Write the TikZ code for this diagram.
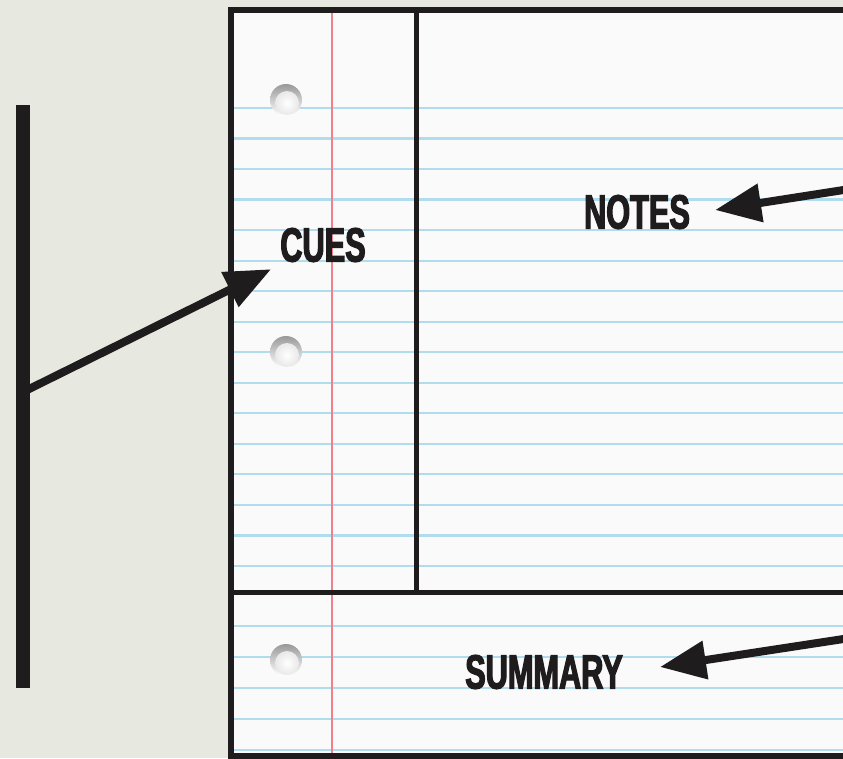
\documentclass[tikz,border=0pt]{standalone}
\usepackage{fontspec}
\usetikzlibrary{arrows.meta}
\newfontfamily\labfont[FakeStretch=0.64,FakeBold=2.5]{Liberation Sans Bold}
\definecolor{bgc}{HTML}{E7E8E0}
\definecolor{paper}{HTML}{FAFAFA}
\definecolor{rulec}{HTML}{B0DCEE}
\definecolor{marginc}{HTML}{F0808A}
\definecolor{ink}{HTML}{1E1C1C}
\begin{document}
\begin{tikzpicture}[x=1pt,y=-1pt,
  lab/.style={font=\labfont\fontsize{48}{48}\selectfont, text=ink, inner sep=0pt},
  frame/.style={draw=ink, line width=6pt},
  divider/.style={draw=ink, line width=5pt},
  ruled/.style={draw=rulec, line width=2.2pt},
  marginline/.style={draw=marginc, line width=2pt},
  barline/.style={draw=ink, line width=14pt},
  pointer/.style={draw=ink, line width=8pt, -{Triangle[length=46pt,width=37pt]}},
  holeouter/.style={top color=gray!80, bottom color=white},
  holeinner/.style={inner color=white, outer color=white!82!gray}]
\useasboundingbox (0,0) rectangle (843,758);
\fill[bgc] (0,0) rectangle (843,758);
\clip (0,0) rectangle (843,758);
% paper
\fill[paper] (231,10) rectangle (900,756);
\foreach \k in {0,...,15}
  \draw[ruled] (231,{108+30.53*\k}) -- (843,{108+30.53*\k});
\foreach \yy in {626,657,688,719,750}
  \draw[ruled] (231,\yy) -- (843,\yy);
\draw[marginline] (332,10) -- (332,756);
% holes
\foreach \n/\yy in {1/100,2/352,3/660}{
  \coordinate (hole\n) at (286,\yy);
  \shade[holeouter] (hole\n) circle (16);
  \shade[holeinner] ([xshift=1pt,yshift=-3pt]hole\n) circle (12);
}
% frame and dividers
\draw[frame] (231,10) rectangle (900,756);
\draw[divider] (416,10) -- (416,592);
\draw[divider] (231,592) -- (900,592);
% labels
\node[lab] (cues) at (323,245) {CUES};
\node[lab] (notes) at (637,212) {NOTES};
\node[lab] (summary) at (544,672) {SUMMARY};
% bracket bar
\coordinate (barTop) at (23,105);
\coordinate (barBot) at (23,688);
\coordinate (barJoin) at (23,392);
\draw[barline] (barTop) -- (barBot);
\draw[pointer] (barJoin) -- ([xshift=-9pt,yshift=-7pt]cues.south west);
% right-side pointers
\coordinate (notesFrom) at (850,189);
\coordinate (summaryFrom) at (850,638);
\draw[pointer] (notesFrom) -- ([xshift=25pt,yshift=2pt]notes.east);
\draw[pointer] (summaryFrom) -- ([xshift=37pt,yshift=5pt]summary.east);
\end{tikzpicture}
\end{document}
